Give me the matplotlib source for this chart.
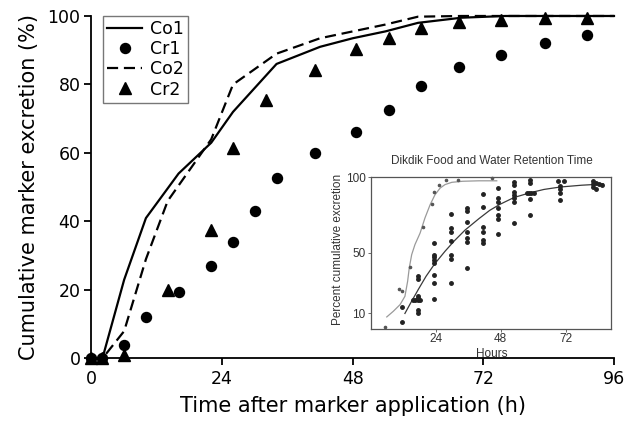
import matplotlib
matplotlib.use("Agg")
import matplotlib.pyplot as plt

# ---- main chart data ----
co1_h = [0, 2, 6, 10, 16, 22, 26, 34, 42, 48, 54, 60, 68, 76, 84, 92, 96]
co1_y = [0, 0, 23, 41, 54, 63, 72, 86, 91, 93.5, 95.5, 98, 99.5, 100, 100, 100, 100]

co2_h = [0, 2, 6, 10, 14, 18, 22, 26, 34, 42, 48, 54, 60, 68, 76, 84, 92, 96]
co2_y = [0, 0, 8, 29, 46, 55, 64, 80, 89, 93.5, 95.5, 97.5, 99.8, 100, 100, 100, 100, 100]

cr1_h = [0, 2, 6, 10, 16, 22, 26, 30, 34, 41, 48.6, 54.6, 60.6, 67.5, 75.3, 83.3, 91.1]
cr1_y = [0, 0, 4, 12, 19.5, 27, 34, 43, 52.7, 60, 66, 72.6, 79.6, 85, 88.6, 92.1, 94.5]

cr2_h = [0, 2, 6, 14, 22, 26, 32, 41, 48.6, 54.6, 60.6, 67.5, 75.3, 83.3, 91.1]
cr2_y = [0, 0, 1, 20, 37.5, 61.4, 75.5, 84.2, 90.3, 93.6, 96.5, 98.2, 98.8, 99.4, 99.4]

x_ticks = [0, 24, 48, 72, 96]
y_ticks = [0, 20, 40, 60, 80, 100]

# ---- inset data (Dikdik Food and Water Retention Time) ----
food_h = [11.7, 11.7,
          17.7, 17.7, 17.7, 17.7, 15.8, 16.6, 17.4, 18.2, 17.7, 17.7,
          23.6, 23.6, 23.6, 23.6, 23.6, 23.6, 23.6, 23.6,
          29.6, 29.6, 29.6, 29.6, 29.6, 29.6, 29.6,
          35.5, 35.5, 35.5, 35.5, 35.5, 35.5, 35.5,
          41.4, 41.4, 41.4, 41.4, 41.4, 41.4,
          47.2, 47.2, 47.2, 47.2, 47.2, 47.2, 47.2,
          53.1, 53.1, 53.1, 53.1, 53.1, 53.1, 53.1,
          58.7, 58.7, 57.7, 58.5, 59.4, 60.3, 58.7, 58.7,
          69.4, 71.4, 70, 70, 70, 70,
          82.3, 82.3, 83.3, 84.3, 85.4, 82.3, 83.3]
food_y = [14, 4.6,
          34.9, 32.7, 21.7, 20.4, 18.9, 18.9, 18.9, 18.9, 12.3, 10.1,
          56.3, 48.8, 47, 45.3, 43.6, 35.5, 30.3, 19.4,
          75.6, 66.6, 63.9, 57.8, 48.5, 45.7, 30.3,
          79.3, 77.8, 70.5, 63.9, 59.6, 57.3, 39.8,
          88.6, 80.4, 67.2, 63.9, 58.4, 56.3,
          93, 86, 83.7, 79.3, 74.9, 72.1, 62.2,
          96.9, 94.7, 90.3, 88.1, 86, 83.7, 69.5,
          98, 95.8, 89.6, 89.6, 89.6, 89.6, 85.3, 74.9,
          97.4, 97.4, 94, 91.9, 89.2, 85,
          97.4, 95.2, 95.8, 95.2, 94.7, 93.3, 91.9]

water_h = [5.4, 10.6, 11.5, 14.6, 19.3, 22.6, 23.6, 25.2, 28, 32.4, 44.8]
water_y = [0.9, 26, 25, 40.6, 67, 82, 90, 95, 98, 98, 99.3]

water_curve_h = [6, 8.4, 10.9, 12.7, 13.7, 14.3, 15.2, 16.4, 18.3, 20.1, 22, 23.8,
                 25.7, 27.5, 30, 34, 40, 46.6]
water_curve_y = [7.7, 11.4, 15.8, 21.3, 31.2, 40, 48.8, 55.4, 63, 73, 81.7, 88.3,
                 92.7, 95, 96.5, 97.2, 97.5, 97.5]

food_curve_h = [12.7, 15, 17.7, 20.5, 23.6, 27.5, 31, 34.9, 40, 44, 47.8, 53, 58.9,
                64, 70, 78, 86]
food_curve_y = [10, 17.5, 26, 34.5, 42.5, 51, 58, 65, 72.5, 78, 82, 86.5, 89.6,
                91.8, 93.4, 94.6, 95.4]

inset_x_ticks = [24, 48, 72]
inset_y_ticks = [10, 50, 100]

plt.rcParams['font.family'] = ['DejaVu Sans']

fig = plt.figure(figsize=(6.28, 4.24), dpi=100)
ax = fig.add_axes([0.1457, 0.1545, 0.832, 0.8078])

ax.plot(co1_h, co1_y, color='black', lw=1.6, label='Co1', clip_on=False, zorder=3)
ax.plot(cr1_h, cr1_y, 'o', color='black', ms=7.2, ls='none', label='Cr1', clip_on=False, zorder=4)
ax.plot(co2_h, co2_y, color='black', lw=1.6, dashes=(5, 2.6), label='Co2', clip_on=False, zorder=3)
ax.plot(cr2_h, cr2_y, '^', color='black', ms=8, ls='none', label='Cr2', clip_on=False, zorder=4)

ax.set_xlim(0, 96)
ax.set_ylim(0, 100)
ax.set_xticks(x_ticks)
ax.set_yticks(y_ticks)
for s in ['top', 'right']:
    ax.spines[s].set_visible(False)
for s in ['left', 'bottom']:
    ax.spines[s].set_linewidth(1.3)
ax.tick_params(direction='out', length=5, width=1.3, labelsize=12.5, pad=3)
ax.set_xlabel('Time after marker application (h)', fontsize=15, labelpad=6)
ax.set_ylabel('Cumulative marker excretion (%)', fontsize=15, labelpad=6)

leg = ax.legend(loc='upper left', bbox_to_anchor=(0.022, 1.0), borderaxespad=0,
                fontsize=12.5, frameon=True, fancybox=False, edgecolor='#555555',
                handlelength=2.0, handletextpad=0.45, labelspacing=0.12,
                borderpad=0.25, numpoints=1)
leg.get_frame().set_linewidth(1.0)

# ---- inset ----
ins_font = ['Liberation Sans', 'DejaVu Sans']
axi = fig.add_axes([0.590, 0.225, 0.383, 0.3575])
axi.set_facecolor('white')
axi.plot(water_curve_h, water_curve_y, color='#9a9a9a', lw=0.9)
axi.plot(food_curve_h, food_curve_y, color='#3a3a3a', lw=0.9)
axi.plot(food_h, food_y, 'o', color='#222222', ms=2.5, ls='none', clip_on=False)
axi.plot(water_h, water_y, 'o', color='#555555', ms=1.6, ls='none', clip_on=False)
axi.set_xlim(0, 88.8)
axi.set_ylim(0, 100)
axi.set_xticks(inset_x_ticks)
axi.set_yticks(inset_y_ticks)
for s in axi.spines.values():
    s.set_color('#555555')
    s.set_linewidth(0.9)
axi.tick_params(direction='out', length=2, width=0.6, colors='#555555', labelsize=8.5, pad=1.5)
for lab in axi.get_xticklabels() + axi.get_yticklabels():
    lab.set_family(ins_font)
    lab.set_color('#333333')
axi.set_xlabel('Hours', fontsize=8.5, family=ins_font, color='#333333')
axi.set_ylabel('Percent cumulative excretion', fontsize=8.5, family=ins_font, color='#333333')
axi.xaxis.set_label_coords(0.504, -0.128)
axi.yaxis.set_label_coords(-0.11, 0.52)
axi.text(0.504, 1.105, 'Dikdik Food and Water Retention Time', transform=axi.transAxes,
         ha='center', va='center', fontsize=8.5, family=ins_font, color='#333333')

fig.savefig('out.png', dpi=100)
